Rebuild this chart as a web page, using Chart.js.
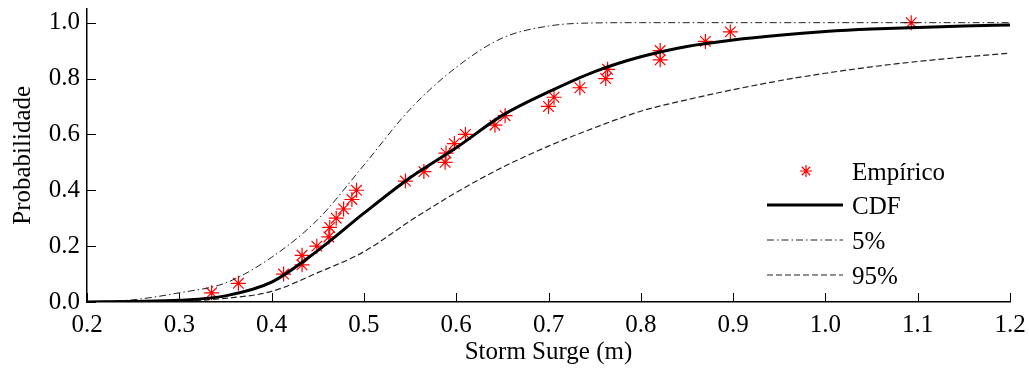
<!DOCTYPE html>
<html>
<head>
<meta charset="utf-8">
<script src="https://cdn.jsdelivr.net/npm/chart.js@4.4.1/dist/chart.umd.min.js"></script>
<style>
  html, body { margin: 0; padding: 0; background: #fff; }
  #wrap { width: 1029px; height: 371px; }
</style>
</head>
<body>
<div id="wrap"><canvas id="myChart" width="1029" height="371"></canvas></div>
<script>
const surge = [0.20, 0.25, 0.30, 0.35, 0.40, 0.45, 0.50, 0.55, 0.60, 0.65, 0.70,
               0.75, 0.80, 0.85, 0.90, 0.95, 1.00, 1.05, 1.10, 1.15, 1.20];
// fitted CDF (thick line)
const cdf = [0.000, 0.002, 0.006, 0.022, 0.071, 0.184, 0.318, 0.445, 0.552, 0.668, 0.752,
             0.825, 0.878, 0.915, 0.938, 0.955, 0.968, 0.977, 0.983, 0.988, 0.992];
// 5% bound (dash-dot)
const p05 = [0.000, 0.008, 0.033, 0.068, 0.160, 0.295, 0.490, 0.690, 0.840, 0.945, 0.988,
             0.999, 1.000, 1.000, 1.000, 1.000, 1.000, 1.000, 1.000, 1.000, 1.000];
// 95% bound (dashed)
const p95 = [0.000, 0.000, 0.003, 0.013, 0.038, 0.105, 0.180, 0.290, 0.392, 0.482, 0.558,
             0.624, 0.683, 0.724, 0.760, 0.792, 0.819, 0.842, 0.861, 0.877, 0.891];

// empirical points
const empSurge = [0.335, 0.364, 0.413, 0.433, 0.433, 0.449, 0.462, 0.463, 0.470, 0.478,
                  0.487, 0.492, 0.545, 0.565, 0.588, 0.589, 0.598, 0.610, 0.642, 0.653,
                  0.700, 0.706, 0.734, 0.762, 0.764, 0.821, 0.821, 0.870, 0.897, 1.093];
const empProb = [0.033, 0.067, 0.100, 0.133, 0.167, 0.200, 0.233, 0.267, 0.300, 0.333,
                 0.367, 0.400, 0.433, 0.467, 0.500, 0.533, 0.567, 0.600, 0.633, 0.667,
                 0.700, 0.733, 0.767, 0.800, 0.833, 0.867, 0.900, 0.933, 0.967, 1.000];

const xTicks = [0.2, 0.3, 0.4, 0.5, 0.6, 0.7, 0.8, 0.9, 1.0, 1.1, 1.2];
const yTicks = [0.0, 0.2, 0.4, 0.6, 0.8, 1.0];

const FONT = 'Liberation Serif, "Times New Roman", serif';
const pts = (xs, ys) => xs.map((v, i) => ({x: v, y: ys[i]}));

// MATLAB style ticks pointing into the axes
const inwardTicks = {
    id: 'inwardTicks',
    afterDatasetsDraw(chart) {
        const {ctx, chartArea: a, scales: {x, y}} = chart;
        ctx.save();
        ctx.strokeStyle = '#000';
        ctx.lineWidth = 1;
        xTicks.forEach(v => {
            const px = Math.round(x.getPixelForValue(v)) + 0.5;
            ctx.beginPath(); ctx.moveTo(px, a.bottom); ctx.lineTo(px, a.bottom - 9); ctx.stroke();
        });
        yTicks.forEach(v => {
            const py = Math.round(y.getPixelForValue(v)) + 0.5;
            ctx.beginPath(); ctx.moveTo(a.left, py); ctx.lineTo(a.left + 9, py); ctx.stroke();
        });
        ctx.restore();
    }
};

// legend drawn inside the axes, lower right, no box
const innerLegend = {
    id: 'innerLegend',
    afterDraw(chart) {
        const {ctx, chartArea: a} = chart;
        const x0 = a.right - 243, x1 = a.right - 167, tx = a.right - 158;
        const rows = [a.bottom - 131, a.bottom - 97, a.bottom - 62, a.bottom - 27];
        ctx.save();
        ctx.font = '25px ' + FONT;
        ctx.fillStyle = '#000';
        ctx.textBaseline = 'middle';
        chart.data.datasets.forEach((ds, i) => {
            const yy = rows[i];
            if (ds.showLine === false) {
                const cx = (x0 + x1) / 2 + 1, r = 6;
                ctx.strokeStyle = ds.borderColor;
                ctx.lineWidth = 1.2;
                ctx.beginPath();
                for (let k = 0; k < 4; k++) {
                    const ang = k * Math.PI / 4;
                    ctx.moveTo(cx - r * Math.cos(ang), yy - r * Math.sin(ang));
                    ctx.lineTo(cx + r * Math.cos(ang), yy + r * Math.sin(ang));
                }
                ctx.stroke();
            } else {
                ctx.strokeStyle = ds.borderColor;
                ctx.lineWidth = ds.borderWidth;
                ctx.setLineDash(ds.borderDash || []);
                ctx.beginPath(); ctx.moveTo(x0, yy); ctx.lineTo(x1, yy); ctx.stroke();
                ctx.setLineDash([]);
            }
            ctx.fillText(ds.label, tx, yy + 2);
        });
        ctx.restore();
    }
};

const ctx = document.getElementById('myChart');
const cht = new Chart(ctx, {
    type: 'scatter',
    data: {
        datasets: [{
            label: 'Empírico',
            data: pts(empSurge, empProb),
            showLine: false,
            pointStyle: 'star',
            pointRadius: 7.5,
            pointBorderColor: '#ff0000',
            borderColor: '#ff0000',
            pointBorderWidth: 1.2,
            order: 1
        }, {
            label: 'CDF',
            data: pts(surge, cdf),
            showLine: true,
            borderColor: '#000',
            borderWidth: 3,
            pointRadius: 0,
            cubicInterpolationMode: 'monotone'
        }, {
            label: '5%',
            data: pts(surge, p05),
            showLine: true,
            borderColor: '#222',
            borderWidth: 1,
            borderDash: [7, 3, 1.5, 3],
            pointRadius: 0,
            cubicInterpolationMode: 'monotone'
        }, {
            label: '95%',
            data: pts(surge, p95),
            showLine: true,
            borderColor: '#222',
            borderWidth: 1.2,
            borderDash: [6, 3],
            pointRadius: 0,
            cubicInterpolationMode: 'monotone'
        }]
    },
    options: {
        responsive: false,
        animation: false,
        devicePixelRatio: 1,
        layout: { padding: { left: 0, right: 19, top: 7, bottom: 0 } },
        plugins: { legend: { display: false }, tooltip: { enabled: false } },
        scales: {
            x: {
                type: 'linear',
                min: 0.2,
                max: 1.2,
                afterFit: s => { s.height = 69; s.paddingLeft = 0; s.paddingRight = 0; },
                afterBuildTicks: s => { s.ticks = xTicks.map(v => ({value: v})); },
                grid: { display: false, drawTicks: false },
                border: { display: true, color: '#000', width: 1.5 },
                ticks: {
                    color: '#000',
                    padding: 8,
                    maxRotation: 0,
                    autoSkip: false,
                    font: { family: FONT, size: 25 },
                    callback: v => v.toFixed(1)
                },
                title: {
                    display: true,
                    text: 'Storm Surge (m)',
                    color: '#000',
                    font: { family: FONT, size: 25 },
                    padding: { top: 0, bottom: 4 }
                }
            },
            y: {
                type: 'linear',
                min: 0,
                max: 1.05,
                afterFit: s => { s.width = 87; s.paddingTop = 0; s.paddingBottom = 0; },
                afterBuildTicks: s => { s.ticks = yTicks.map(v => ({value: v})); },
                grid: { display: false, drawTicks: false },
                border: { display: true, color: '#000', width: 1.5 },
                ticks: {
                    color: '#000',
                    padding: 7,
                    autoSkip: false,
                    font: { family: FONT, size: 25 },
                    callback: v => v.toFixed(1)
                },
                title: {
                    display: true,
                    text: 'Probabilidade',
                    color: '#000',
                    font: { family: FONT, size: 25 },
                    padding: { top: 8, bottom: 0 }
                }
            }
        }
    },
    plugins: [inwardTicks, innerLegend]
});
</script>
</body>
</html>
